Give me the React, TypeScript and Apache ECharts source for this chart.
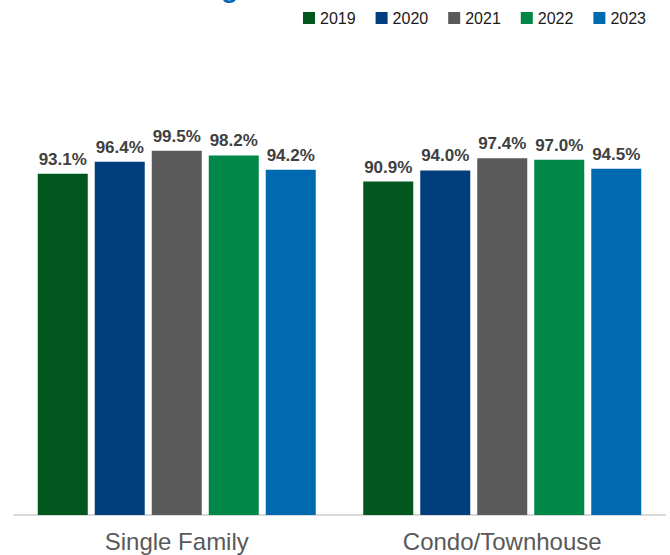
import React, { useEffect, useRef } from "react";
import * as echarts from "echarts";

const categories = ["Single Family", "Condo/Townhouse"];
const years = ["2019", "2020", "2021", "2022", "2023"];
const values2019 = [93.1, 90.9];
const values2020 = [96.4, 94.0];
const values2021 = [99.5, 97.4];
const values2022 = [98.2, 97.0];
const values2023 = [94.2, 94.5];
const seriesValues = [values2019, values2020, values2021, values2022, values2023];
const colors = ["#02571e", "#003e7e", "#5a5a5a", "#008647", "#006ab0"];

export default function App() {
  const ref = useRef<HTMLDivElement>(null);

  useEffect(() => {
    document.body.style.margin = "0";
    if (!ref.current) return;
    const chart = echarts.init(ref.current, null, { renderer: "svg" });
    const font = '"Liberation Sans", Arial, Helvetica, sans-serif';
    chart.setOption({
      animation: false,
      color: colors,
      textStyle: { fontFamily: font },
      legend: {
        data: years,
        left: 303,
        top: 10,
        width: 360,
        padding: 0,
        itemWidth: 12,
        itemHeight: 12,
        itemGap: 20,
        icon: "rect",
        textStyle: {
          fontFamily: font,
          fontSize: 16,
          color: "#1a1a1a",
        },
      },
      graphic: [
        {
          type: "text",
          x: 221,
          y: -12.5,
          style: {
            text: "g",
            font: 'bold 28px "Liberation Sans", Arial, sans-serif',
            fill: "#0069b4",
            textVerticalAlign: "middle",
          },
        },
      ],
      grid: { left: 14, right: 5, top: 149, bottom: 40 },
      xAxis: {
        type: "category",
        data: categories,
        axisLine: { show: true, onZero: false, lineStyle: { color: "#d9d9d9", width: 2 } },
        axisTick: { show: false },
        axisLabel: {
          fontSize: 24,
          color: "#595959",
          margin: 14,
          fontFamily: font,
        },
      },
      yAxis: {
        type: "value",
        min: -2.4,
        max: 100,
        startValue: -2.4,
        show: false,
        splitLine: { show: false },
      },
      series: years.map((y, i) => ({
        name: y,
        type: "bar",
        data: seriesValues[i],
        barWidth: 50,
        barGap: "14%",
        itemStyle: { color: colors[i] },
        label: {
          show: true,
          position: "top",
          distance: 6,
          fontSize: 17,
          fontWeight: "bold",
          color: "#404040",
          fontFamily: font,
          formatter: (p: any) => Number(p.value).toFixed(1) + "%",
        },
      })),
    });
    return () => chart.dispose();
  }, []);

  return (
    <div
      ref={ref}
      style={{ width: 670, height: 555, position: "absolute", left: 0, top: 0 }}
    />
  );
}
